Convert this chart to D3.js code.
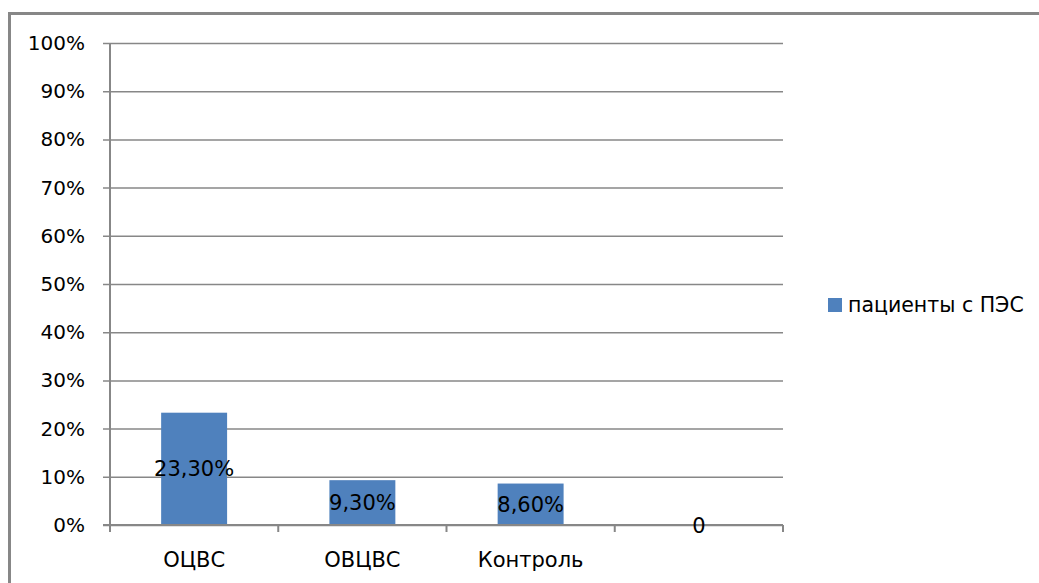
<!DOCTYPE html>
<html>
<head>
<meta charset="utf-8">
<script src="https://cdn.jsdelivr.net/npm/d3@7"></script>
<style>
  html, body { margin: 0; padding: 0; background: #fff; }
  svg { display: block; }
  text { font-family: "DejaVu Sans", Verdana, sans-serif; fill: #000; }
</style>
</head>
<body>
<svg id="chart" width="1039" height="583"></svg>
<script>
// Share of patients with PES per group
const categories = ["ОЦВС", "ОВЦВС", "Контроль", ""];
const values = [0.233, 0.093, 0.086, 0];
const valueLabels = ["23,30%", "9,30%", "8,60%", "0"];
const yTicks = [0, 0.1, 0.2, 0.3, 0.4, 0.5, 0.6, 0.7, 0.8, 0.9, 1.0];
const seriesName = "пациенты с ПЭС";

const W = 1039, H = 583;
const plot = { left: 110, right: 783, top: 43, bottom: 525 };
const gridColor = "#878787";
const barColor = "#4f81bd";

const svg = d3.select("#chart");

// outer chart frame
svg.append("rect")
  .attr("x", 9.5).attr("y", 13.5)
  .attr("width", W + 20).attr("height", H + 20)
  .attr("fill", "none").attr("stroke", gridColor).attr("stroke-width", 3);

const band = d3.scaleBand().domain(d3.range(categories.length))
  .range([plot.left, plot.right]);
const barW = band.step() * 0.392;
const barX = i => band(i) + (band.step() - barW) / 2;
const y = d3.scaleLinear().domain([0, 1]).range([plot.bottom, plot.top]);

// horizontal gridlines with left ticks
const yAxis = d3.axisLeft(y).tickValues(yTicks)
  .tickFormat(d3.format(".0%"))
  .tickSize(-(plot.right - plot.left)).tickPadding(25);
const gy = svg.append("g").attr("transform", `translate(${plot.left},0)`).call(yAxis);
gy.select(".domain").remove();
gy.selectAll(".tick line").attr("stroke", gridColor).attr("stroke-width", 1.5)
  .attr("x1", -7);
gy.selectAll(".tick text").attr("font-size", 20).attr("font-family", "DejaVu Sans")
  .attr("fill", "#000");

// vertical axis line
svg.append("line")
  .attr("x1", plot.left).attr("x2", plot.left)
  .attr("y1", plot.top).attr("y2", plot.bottom)
  .attr("stroke", gridColor).attr("stroke-width", 2);

// bars
svg.append("g").selectAll("rect").data(values).join("rect")
  .attr("x", (d, i) => barX(i))
  .attr("width", barW)
  .attr("y", d => y(d))
  .attr("height", d => y(0) - y(d))
  .attr("fill", barColor);

// category axis
const xAxis = d3.axisBottom(band).tickFormat(i => categories[i]).tickSize(0).tickPadding(27);
const gx = svg.append("g").attr("transform", `translate(0,${plot.bottom})`).call(xAxis);
gx.select(".domain").remove();
gx.selectAll(".tick text").attr("font-size", 21).attr("font-family", "DejaVu Sans").attr("fill", "#000");

svg.append("line")
  .attr("x1", plot.left - 7).attr("x2", plot.right)
  .attr("y1", plot.bottom).attr("y2", plot.bottom)
  .attr("stroke", gridColor).attr("stroke-width", 2);

// category boundary ticks
const bounds = d3.range(categories.length + 1).map(i => plot.left + i * band.step());
svg.append("g").selectAll("line").data(bounds).join("line")
  .attr("x1", d => d).attr("x2", d => d)
  .attr("y1", plot.bottom).attr("y2", plot.bottom + 7)
  .attr("stroke", gridColor).attr("stroke-width", 2);

// value labels centred in each bar
svg.append("g").selectAll("text").data(values).join("text")
  .attr("x", (d, i) => barX(i) + barW / 2)
  .attr("y", d => (y(d) + y(0)) / 2)
  .attr("dy", "0.36em")
  .attr("text-anchor", "middle")
  .attr("font-size", 21)
  .text((d, i) => valueLabels[i]);

// legend
const lg = svg.append("g").attr("transform", "translate(828,298)");
lg.append("rect").attr("width", 14).attr("height", 14).attr("fill", barColor);
lg.append("text").attr("x", 20).attr("y", 7).attr("dy", "0.36em")
  .attr("font-size", 20.5).text(seriesName);
</script>
</body>
</html>
